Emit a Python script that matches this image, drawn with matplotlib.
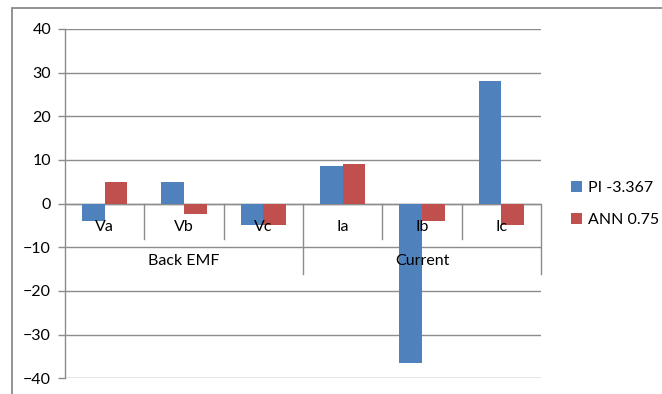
import numpy as np
import matplotlib.pyplot as plt
from matplotlib.patches import Patch

# phase quantities and the two controller series
categories = ["Va", "Vb", "Vc", "Ia", "Ib", "Ic"]
groups = ["Back EMF", "Current"]
group_sizes = [3, 3]
pi_values = [-4, 5, -5, 8.7, -36.4, 28]
ann_values = [5, -2.3, -5, 9, -3.9, -5]
series_names = ["PI -3.367", "ANN 0.75"]

BLUE = "#4F81BD"
RED = "#C0504D"
GRID = "#8C8C8C"
FS = 11.5

plt.rcParams["font.family"] = ["Lato", "DejaVu Sans"]

W, H = 662, 394
fig = plt.figure(figsize=(W / 100, H / 100), dpi=100)

# chart frame (top and left edges show)
frame = plt.Rectangle((12 / W, -0.1), 1.2, 1 - 8 / H + 0.1, transform=fig.transFigure,
                      fill=False, edgecolor="#8A8A8A", linewidth=1.3)
fig.patches.append(frame)

ax = fig.add_axes([65 / W, 1 - 378.3 / H, (541 - 65) / W, (378.3 - 29) / H])

x = np.arange(len(categories))
bw = 0.2857
ax.bar(x - bw / 2, pi_values, bw, color=BLUE, zorder=3)
ax.bar(x + bw / 2, ann_values, bw, color=RED, zorder=3)

ax.set_xlim(-0.5, len(categories) - 0.5)
ax.set_ylim(-40, 40)
ax.set_yticks(np.arange(-40, 41, 10))
ax.yaxis.grid(True, color=GRID, linewidth=1.0, zorder=0)
ax.set_axisbelow(True)
ax.set_xticks([])
for s in ["top", "right", "bottom"]:
    ax.spines[s].set_visible(False)
ax.spines["left"].set_color(GRID)
ax.spines["left"].set_linewidth(1.0)
ax.tick_params(axis="y", length=5, width=1.0, color=GRID, pad=5, labelsize=FS)

# category axis along zero
ax.axhline(0, color=GRID, linewidth=1.0, zorder=2)
for i in range(1, len(categories)):
    if i % 3 != 0:
        ax.plot([i - 0.5, i - 0.5], [0, -8.0], color=GRID, linewidth=1.0, zorder=2, clip_on=False)
start = 0
for g, n in zip(groups, group_sizes):
    end = start + n
    ax.plot([end - 0.5, end - 0.5], [0, -16.0], color=GRID, linewidth=1.0, zorder=2, clip_on=False)
    ax.text((start + end - 1) / 2, -13.2, g, ha="center", va="center", fontsize=FS, zorder=5)
    start = end
for xi, c in zip(x, categories):
    ax.text(xi, -5.4, c, ha="center", va="center", fontsize=FS, zorder=5)

handles = [Patch(facecolor=BLUE), Patch(facecolor=RED)]
fig.legend(handles, series_names, loc="center left", bbox_to_anchor=(557 / W, 1 - 204 / H),
           frameon=False, fontsize=FS, handlelength=0.65, handleheight=0.65,
           handletextpad=0.4, labelspacing=1.1)

fig.savefig("out.png", dpi=100)
